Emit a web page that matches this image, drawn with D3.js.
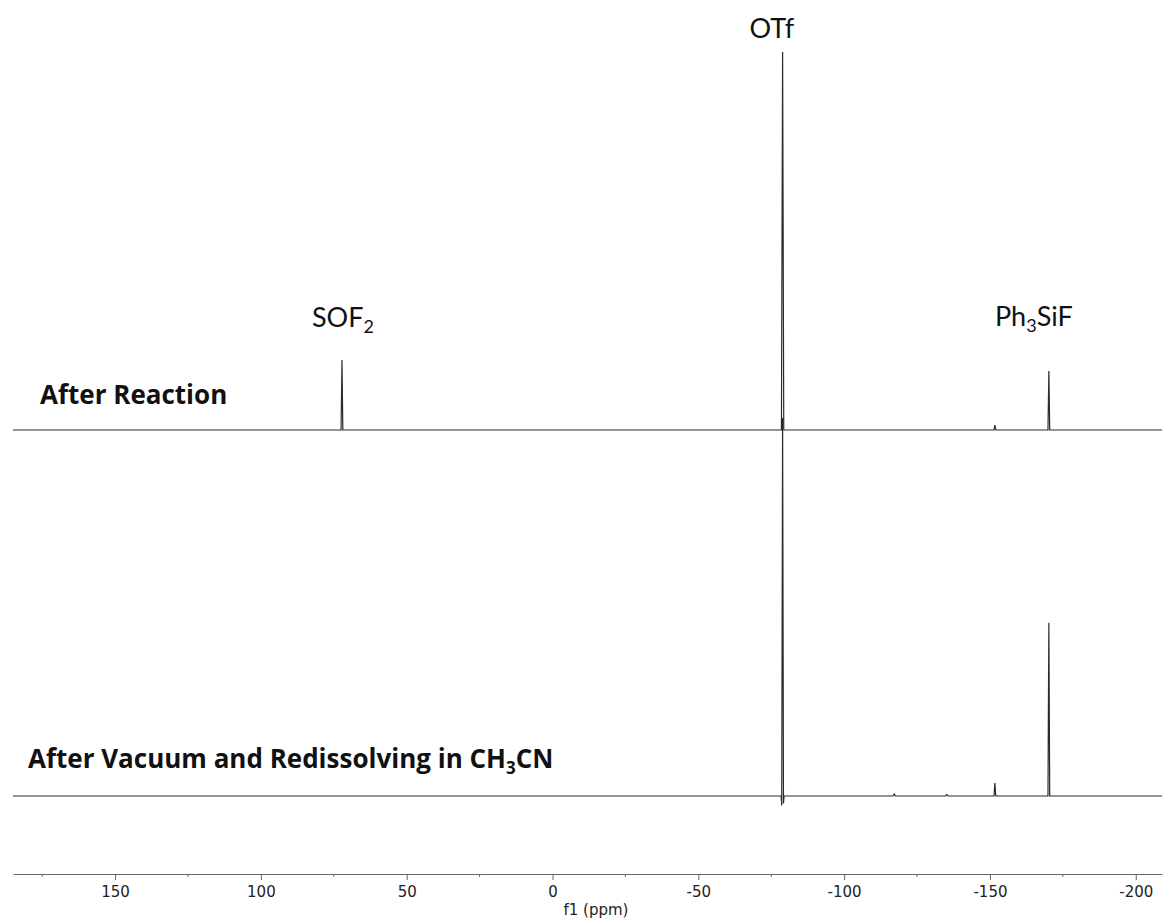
<!DOCTYPE html>
<html>
<head>
<meta charset="utf-8">
<script src="https://cdn.jsdelivr.net/npm/d3@7"></script>
<style>
  html, body { margin: 0; padding: 0; background: #fff; }
  svg { display: block; }
</style>
</head>
<body>
<svg id="chart" width="1164" height="924"></svg>
<script>
// 19F NMR spectra: chemical shift (ppm) and relative intensity sample points
const upperPpm = [185, 72.5, 72.2, 71.9, -78.5, -78.9, -79.3, -151.4, -151.7, -152.0, -169.9, -170.2, -170.5, -209];
const upperInt = [0, 0, 18.5, 0, 0, 100, 0, 0, 1.3, 0, 0, 15.6, 0, 0];

const lowerPpm = [185, -78.4, -78.6, -78.9, -79.2, -79.4, -116.8, -117.2, -117.6, -134.8, -135.2, -135.6, -151.4, -151.7, -152.0, -169.9, -170.2, -170.5, -209];
const lowerInt = [0, 0, -2.5, 100, -2.0, 0, 0, 0.5, 0, 0, 0.4, 0, 0, 3.4, 0, 0, 45.8, 0, 0];

// Spectrum titles and peak assignments
const spectrumTitles = ["After Reaction", "After Vacuum and Redissolving in CH|3|CN"];
const peakNames = ["SOF|2|", "OTf", "Ph|3|SiF"];
const peakShifts = [72.2, -79, -170.2];

// Axis ticks
const majorTicks = [150, 100, 50, 0, -50, -100, -150, -200];
const minorTicks = [175, 125, 75, 25, -25, -75, -125, -175];
const axisTitle = "f1 (ppm)";

const svg = d3.select("#chart");

const x = d3.scaleLinear().domain([185, -209]).range([13, 1162]);
// intensity -> pixel offset above each spectrum's baseline
const yUpper = d3.scaleLinear().domain([0, 100]).range([430, 52]);
const yLower = d3.scaleLinear().domain([0, 100]).range([796, 418]);

const line = (ys) => d3.line().x(d => x(d[0])).y(d => ys(d[1]));

const upperData = d3.zip(upperPpm, upperInt);
const lowerData = d3.zip(lowerPpm, lowerInt);

svg.append("path")
  .datum(lowerData)
  .attr("d", line(yLower))
  .attr("fill", "none")
  .attr("stroke", "#2a2a2a")
  .attr("stroke-width", 1.2);

svg.append("path")
  .datum(upperData)
  .attr("d", line(yUpper))
  .attr("fill", "none")
  .attr("stroke", "#2a2a2a")
  .attr("stroke-width", 1.2);

// Renders "A|2|B" as text with subscripted segments
function richText(sel, str, subSize) {
  const parts = str.split("|");
  parts.forEach((p, i) => {
    if (!p) return;
    const t = sel.append("tspan").text(p);
    if (i % 2 === 1) {
      t.attr("font-size", subSize).attr("dy", subSize * 0.35);
    } else if (i > 0) {
      t.attr("dy", -subSize * 0.35);
    }
  });
}

// Peak assignment labels
const labelY = [327, 38, 326];
const labelDx = [1, -11, -15];
peakNames.forEach((name, i) => {
  const t = svg.append("text")
    .attr("x", x(peakShifts[i]) + labelDx[i])
    .attr("y", labelY[i])
    .attr("text-anchor", "middle")
    .attr("font-family", "Lato, 'Open Sans', sans-serif")
    .attr("font-size", 27)
    .attr("fill", "#111");
  richText(t, name, 18);
});

// Spectrum titles
const titlePos = [[40, 404], [28, 768]];
spectrumTitles.forEach((s, i) => {
  const t = svg.append("text")
    .attr("x", titlePos[i][0])
    .attr("y", titlePos[i][1])
    .attr("font-family", "'Open Sans', Lato, sans-serif")
    .attr("font-weight", "bold")
    .attr("font-size", 26)
    .attr("fill", "#111");
  richText(t, s, 17);
});

// Chemical shift axis
const axisY = 874;
const axisG = svg.append("g").attr("transform", `translate(0,${axisY})`);
axisG.call(d3.axisBottom(x).tickValues(majorTicks).tickSize(6).tickSizeOuter(0).tickPadding(6).tickFormat(d => String(d)))
  .call(g => g.select(".domain").attr("stroke", "#666"))
  .call(g => g.selectAll(".tick line").attr("stroke", "#666"))
  .call(g => g.selectAll(".tick text")
    .attr("font-family", "'DejaVu Sans', Verdana, sans-serif")
    .attr("font-size", 15)
    .attr("fill", "#222"));

axisG.selectAll(".minor")
  .data(minorTicks)
  .enter().append("line")
  .attr("class", "minor")
  .attr("x1", d => x(d)).attr("x2", d => x(d))
  .attr("y1", 0).attr("y2", 3)
  .attr("stroke", "#666");

svg.append("text")
  .attr("x", 596)
  .attr("y", 915)
  .attr("text-anchor", "middle")
  .attr("font-family", "'DejaVu Sans', Verdana, sans-serif")
  .attr("font-size", 15)
  .attr("fill", "#222")
  .text(axisTitle);
</script>
</body>
</html>
